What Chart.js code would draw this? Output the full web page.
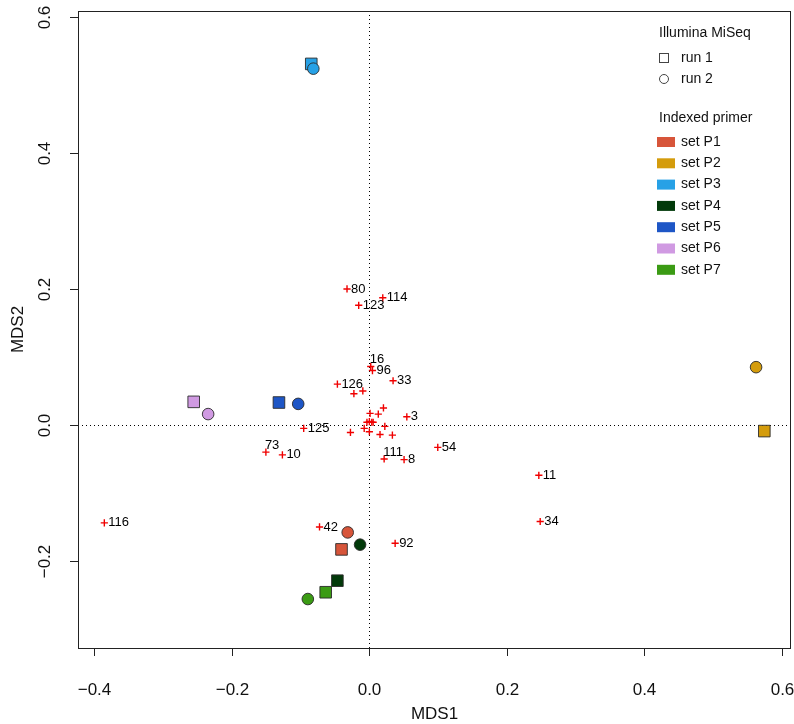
<!DOCTYPE html>
<html>
<head>
<meta charset="utf-8">
<script src="https://cdn.jsdelivr.net/npm/chart.js@4.4.1/dist/chart.umd.min.js"></script>
<style>
	html, body { margin: 0; padding: 0; background: #fff; overflow: hidden; }
	#mds { display: block; }
</style>
</head>
<body>
<canvas id="mds" width="794" height="724"></canvas>
<script>
// sample scores (red crosses); empty id = unlabelled
var sampleIds = ['80','114','123','16','96','33','126','3','125','73','10','111','8','54','11','116','34','42','92',
	'','','','','','','','','','','','','','',''];
var sampleX = [-0.032, 0.020, -0.015, 0.0025, 0.005, 0.035, -0.046, 0.055, -0.095, -0.150, -0.126, 0.022, 0.051, 0.100, 0.247, -0.385, 0.249, -0.072, 0.038,
	-0.009, -0.022, 0.0015, 0.0135, 0.021, -0.003, 0.0005, 0.004, 0.006, -0.007, 0.0005, 0.023, -0.027, 0.016, 0.034];
var sampleY = [0.200, 0.187, 0.176, 0.086, 0.080, 0.065, 0.060, 0.012, -0.005, -0.040, -0.044, -0.050, -0.051, -0.033, -0.074, -0.144, -0.142, -0.150, -0.174,
	0.050, 0.046, 0.017, 0.016, 0.025, 0.004, 0.005, 0.004, 0.004, -0.005, -0.010, -0.002, -0.011, -0.014, -0.015];

// primer sets, run 1 = squares, run 2 = circles
var primerSets = ['set P1','set P2','set P3','set P4','set P5','set P6','set P7'];
var primerColors = ['#D7553A','#D49C0C','#27A1E6','#023A0A','#1E56C6','#D09AE2','#3B9B14'];
var run1X = [-0.040, 0.575, -0.084, -0.046, -0.131, -0.255, -0.063];
var run1Y = [-0.183, -0.009, 0.531, -0.229, 0.033, 0.034, -0.246];
var run2X = [-0.031, 0.563, -0.081, -0.013, -0.103, -0.234, -0.089];
var run2Y = [-0.158, 0.085, 0.524, -0.176, 0.031, 0.016, -0.256];

var xTicks = [-0.4, -0.2, 0.0, 0.2, 0.4, 0.6];
var yTicks = [-0.2, 0.0, 0.2, 0.4, 0.6];

// labels that sit above the cross instead of to the right
var labelUp = {'16': true, '111': true, '73': true};

var FONT = '"Liberation Sans", Arial, Helvetica, sans-serif';

function pts(xs, ys){
	var out = [];
	for(var i=0;i<xs.length;i++){
		out.push({x: xs[i], y: ys[i]});
	}
	return out;
}

function tickText(v){
	if(v === 0) return '0.0';
	return (v < 0 ? '\u2212' : '') + Math.abs(v).toFixed(1);
}

var rPlot = {
	id: 'rPlot',
	beforeDatasetsDraw: function(chart){
		var ctx = chart.ctx, a = chart.chartArea;
		var sx = chart.scales.x, sy = chart.scales.y;
		ctx.save();
		ctx.strokeStyle = '#000';
		ctx.lineWidth = 1;
		ctx.setLineDash([1, 3]);
		var x0 = Math.round(sx.getPixelForValue(0)) + 0.5;
		var y0 = Math.round(sy.getPixelForValue(0)) + 0.5;
		ctx.beginPath();
		ctx.moveTo(x0, a.top); ctx.lineTo(x0, a.bottom);
		ctx.moveTo(a.left, y0); ctx.lineTo(a.right, y0);
		ctx.stroke();
		ctx.restore();
	},
	afterDatasetsDraw: function(chart){
		var ctx = chart.ctx, a = chart.chartArea;
		var sx = chart.scales.x, sy = chart.scales.y;
		ctx.save();

		// sample labels
		ctx.fillStyle = '#000';
		ctx.font = '13px ' + FONT;
		ctx.textAlign = 'left';
		ctx.textBaseline = 'middle';
		for(var i=0;i<sampleIds.length;i++){
			if(!sampleIds[i]) continue;
			var px = sx.getPixelForValue(sampleX[i]);
			var py = sy.getPixelForValue(sampleY[i]);
			if(labelUp[sampleIds[i]]){
				ctx.fillText(sampleIds[i], px - 1, py - 7);
			}else{
				ctx.fillText(sampleIds[i], px + 4, py);
			}
		}

		// box
		ctx.strokeStyle = '#222';
		ctx.lineWidth = 1;
		ctx.strokeRect(Math.round(a.left) + 0.5, Math.round(a.top) + 0.5,
			Math.round(a.right - a.left) - 1, Math.round(a.bottom - a.top));

		// x axis
		ctx.font = '17px ' + FONT;
		ctx.fillStyle = '#111';
		ctx.textAlign = 'center';
		ctx.textBaseline = 'middle';
		ctx.beginPath();
		xTicks.forEach(function(v){
			var p = Math.round(sx.getPixelForValue(v)) + 0.5;
			ctx.moveTo(p, a.bottom); ctx.lineTo(p, a.bottom + 8);
			ctx.fillText(tickText(v), p, a.bottom + 42);
		});
		ctx.stroke();
		ctx.fillText('MDS1', (a.left + a.right) / 2, a.bottom + 66);

		// y axis
		ctx.beginPath();
		yTicks.forEach(function(v){
			var p = Math.round(sy.getPixelForValue(v)) + 0.5;
			ctx.moveTo(a.left, p); ctx.lineTo(a.left - 8, p);
			ctx.save();
			ctx.translate(a.left - 33, p);
			ctx.rotate(-Math.PI / 2);
			ctx.fillText(tickText(v), 0, 0);
			ctx.restore();
		});
		ctx.stroke();
		ctx.save();
		ctx.translate(a.left - 60, (a.top + a.bottom) / 2);
		ctx.rotate(-Math.PI / 2);
		ctx.fillText('MDS2', 0, 0);
		ctx.restore();

		// legend
		var lx = 659;
		ctx.font = '14px ' + FONT;
		ctx.textAlign = 'left';
		ctx.fillStyle = '#111';
		ctx.fillText('Illumina MiSeq', lx, 33);
		ctx.strokeStyle = '#444';
		ctx.strokeRect(659.5, 53.5, 9, 9);
		ctx.fillText('run 1', 681, 58);
		ctx.beginPath();
		ctx.arc(664, 79, 4.5, 0, Math.PI * 2);
		ctx.stroke();
		ctx.fillText('run 2', 681, 79);
		ctx.fillText('Indexed primer', lx, 118);
		for(var k=0;k<primerSets.length;k++){
			var ry = 142 + k * 21.3;
			ctx.fillStyle = primerColors[k];
			ctx.fillRect(657, ry - 5, 18, 10);
			ctx.fillStyle = '#111';
			ctx.fillText(primerSets[k], 681, ry);
		}
		ctx.restore();
	}
};

// higher order is drawn first (underneath)
var datasets = [{
	label: 'samples',
	data: pts(sampleX, sampleY),
	order: 3,
	pointStyle: 'cross',
	pointRadius: 3.6,
	pointBorderColor: '#F00000',
	pointBorderWidth: 1.4,
	showLine: false
}, {
	label: 'run 1',
	data: pts(run1X, run1Y),
	order: 2,
	pointStyle: 'rect',
	pointRadius: 8.2,
	pointBackgroundColor: primerColors,
	pointBorderColor: '#2a2a2a',
	pointBorderWidth: 0.9,
	showLine: false
}, {
	label: 'run 2',
	data: pts(run2X, run2Y),
	order: 1,
	pointStyle: 'circle',
	pointRadius: 5.8,
	pointBackgroundColor: primerColors,
	pointBorderColor: '#2a2a2a',
	pointBorderWidth: 0.9,
	showLine: false
}];

new Chart(document.getElementById('mds'), {
	type: 'scatter',
	data: { datasets: datasets },
	options: {
		responsive: false,
		animation: false,
		events: [],
		layout: { autoPadding: false, padding: { left: 78, top: 11, right: 3, bottom: 76 } },
		plugins: { legend: { display: false }, tooltip: { enabled: false } },
		scales: {
			x: { type: 'linear', min: -0.4233, max: 0.6138, display: false },
			y: { type: 'linear', min: -0.328, max: 0.6088, display: false }
		}
	},
	plugins: [rPlot]
});
</script>
</body>
</html>
